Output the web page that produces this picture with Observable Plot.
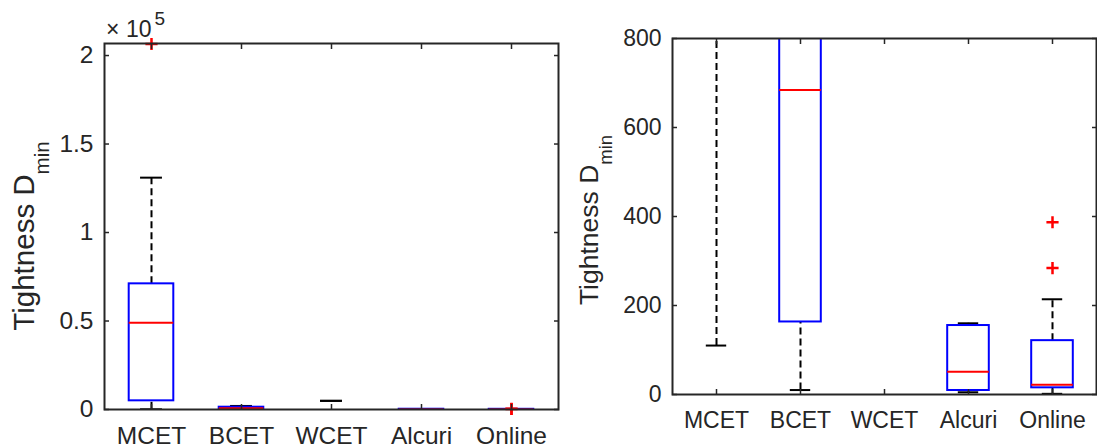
<!DOCTYPE html>
<html><head><meta charset="utf-8">
<script src="https://cdn.jsdelivr.net/npm/d3@7"></script>
<script src="https://cdn.jsdelivr.net/npm/@observablehq/plot@0.6"></script>
<style>
body{margin:0;background:#fff;width:1097px;height:447px;overflow:hidden;position:relative;font-family:"Liberation Sans",Arial,sans-serif;}
.panel{position:absolute;top:0;}
</style></head><body>
<div id="left" class="panel" style="left:0px"></div>
<div id="right" class="panel" style="left:560px"></div>
<script>
// ---- data ----
const categories = ["MCET", "BCET", "WCET", "Alcuri", "Online"];
const whiskerLow  = [110, 10, 4900, 5, 1.5];
const quartile1   = [4900, 163, null, 9, 15];
const median      = [49000, 684, null, 51, 22];
const quartile3   = [71000, 1300, null, 155, 121];
const whiskerHigh = [131000, 2000, 4900, 160, 214];
const outlierCategory = ["MCET", "Online", "Online"];
const outlierValue    = [206500, 284, 387];
const leftTicks  = [0, 50000, 100000, 150000, 200000];
const rightTicks = [0, 200, 400, 600, 800];
const yLabel = "Tightness D";
const yLabelSub = "min";

const AX = "#262626";
const FONT = "'Liberation Sans', Arial, sans-serif";

function panel({width, height, ml, mr, mt, mb, yDomain, yTicks, yTickFormat, fontSize}) {
  const bw = (width - ml - mr) / categories.length;
  const boxInset = bw * 0.25, capInset = bw * 0.375;
  const rows = categories.map((c, i) => ({cat: c, lo: whiskerLow[i], q1: quartile1[i], med: median[i], q3: quartile3[i], hi: whiskerHigh[i]}));
  const boxed = rows.filter(d => d.q1 != null);
  const outliers = outlierCategory.map((c, i) => ({cat: c, v: outlierValue[i]}));
  const dash = {stroke: "black", strokeWidth: 2, strokeDasharray: "7,4", clip: true};
  const cap = {stroke: "black", strokeWidth: 2, insetLeft: capInset, insetRight: capInset, clip: true};
  return Plot.plot({
    width, height, marginLeft: ml, marginRight: mr, marginTop: mt, marginBottom: mb,
    style: {fontFamily: FONT, fontSize: fontSize + "px", color: AX, background: "transparent", overflow: "visible"},
    x: {type: "band", domain: categories, padding: 0},
    y: {domain: yDomain},
    marks: [
      Plot.ruleX(boxed, {x: "cat", y1: "q3", y2: "hi", ...dash}),
      Plot.ruleX(boxed, {x: "cat", y1: "lo", y2: "q1", ...dash}),
      Plot.tickY(rows, {x: "cat", y: "hi", ...cap}),
      Plot.tickY(rows, {x: "cat", y: "lo", ...cap}),
      Plot.barY(boxed, {x: "cat", y1: "q1", y2: "q3", fill: "none", stroke: "#0000ff", strokeWidth: 2, insetLeft: boxInset, insetRight: boxInset, clip: true}),
      Plot.tickY(boxed, {x: "cat", y: "med", stroke: "#ff0000", strokeWidth: 2, insetLeft: boxInset, insetRight: boxInset, clip: true}),
      Plot.dot(outliers, {x: "cat", y: "v", symbol: "plus", stroke: "#ff0000", r: 4, strokeWidth: 2.5}),
      Plot.frame({stroke: AX, strokeWidth: 2}),
      Plot.axisX({anchor: "bottom", tickSize: -5, tickPadding: 22, stroke: AX, strokeWidth: 1.5, fill: AX, label: null}),
      Plot.axisX({anchor: "top", tickSize: -5, tickFormat: () => "", stroke: AX, strokeWidth: 1.5, label: null}),
      Plot.axisY({anchor: "left", ticks: yTicks, tickFormat: yTickFormat, tickSize: -5, tickPadding: 16, stroke: AX, strokeWidth: 1.5, fill: AX, label: null}),
      Plot.axisY({anchor: "right", ticks: yTicks, tickFormat: () => "", tickSize: -5, stroke: AX, strokeWidth: 1.5, label: null})
    ]
  });
}

function addYLabel(svg, x, y, size, subSize, subDy) {
  const t = d3.select(svg).append("text")
    .attr("transform", `translate(${x},${y}) rotate(-90)`)
    .attr("text-anchor", "middle")
    .attr("fill", AX)
    .attr("font-family", FONT)
    .attr("font-size", size)
    .style("font-size", size + "px");
  t.append("tspan").text(yLabel);
  t.append("tspan").attr("dy", subDy).attr("font-size", subSize).style("font-size", subSize + "px").text(yLabelSub);
}

const left = panel({width: 560, height: 447, ml: 104, mr: 2, mt: 43, mb: 38,
  yDomain: [0, 206800], yTicks: leftTicks, yTickFormat: d => String(d / 1e5), fontSize: 24.5});
document.getElementById("left").appendChild(left);
addYLabel(left, 34, 236, 29.5, 20.5, 15);
const ex = d3.select(left).append("text").attr("fill", AX)
  .attr("text-anchor", "start").attr("font-family", FONT).attr("font-size", 23).style("font-size", "23px");
ex.append("tspan").attr("x", 106).attr("y", 37).text("×");
ex.append("tspan").attr("x", 126).attr("y", 37).text("10");
ex.append("tspan").attr("x", 154.5).attr("y", 25).attr("font-size", 19).style("font-size", "19px").text("5");

const right = panel({width: 537, height: 447, ml: 112, mr: 1, mt: 38, mb: 53,
  yDomain: [0, 800], yTicks: rightTicks, yTickFormat: d => String(d), fontSize: 23});
document.getElementById("right").appendChild(right);
addYLabel(right, 598 - 560, 220, 26.5, 18.5, 14);
</script>
</body></html>
